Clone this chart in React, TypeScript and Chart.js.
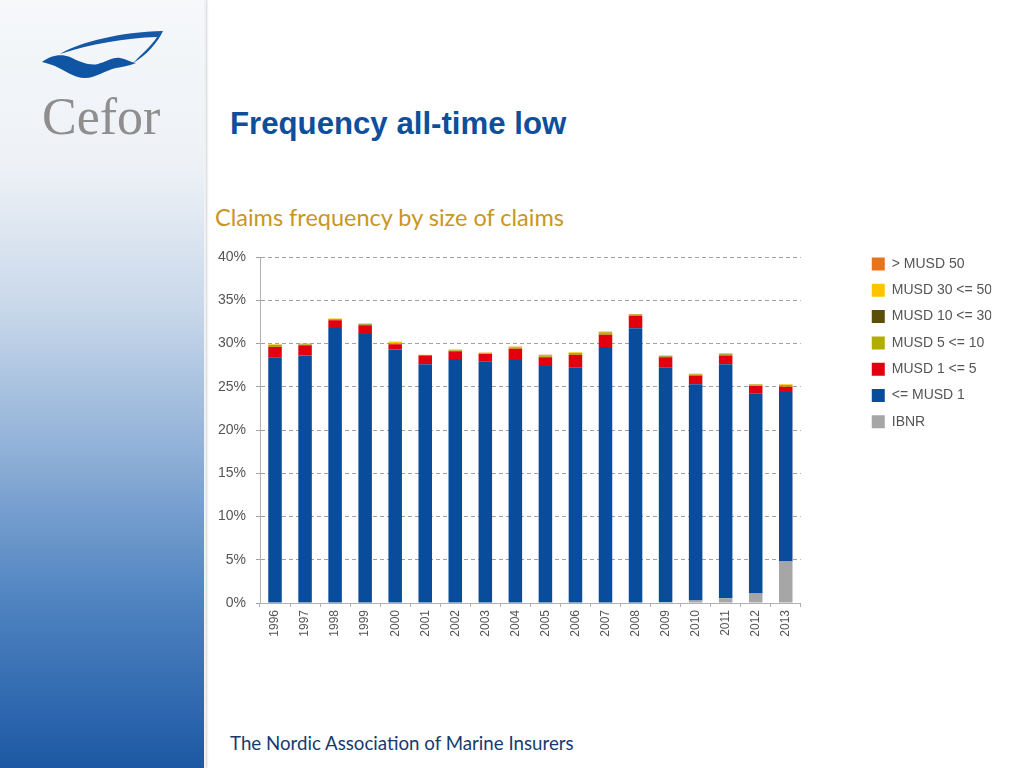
import React, { useEffect, useRef } from "react";
import { Chart, registerables } from "chart.js";

Chart.register(...registerables);

const years = ["1996","1997","1998","1999","2000","2001","2002","2003","2004","2005","2006","2007","2008","2009","2010","2011","2012","2013"];
const ibnr = [0,0,0,0,0,0,0,0,0,0,0,0,0,0.1,0.3,0.55,1.1,4.8];
const upToMusd1 = [28.4,28.6,31.8,31.1,29.3,27.6,28.2,27.9,28.1,27.4,27.2,29.6,31.75,27.1,25.0,27.05,23.1,19.6];
const musd1to5 = [1.2,1.2,0.9,1.0,0.6,1.0,0.9,0.9,1.3,1.0,1.5,1.4,1.45,1.2,1.0,1.0,0.9,0.6];
const musd5to10 = [0.12,0.08,0.08,0.08,0.12,0.05,0.08,0.06,0.1,0.12,0.12,0.15,0.08,0.08,0.08,0.12,0.08,0.12];
const musd10to30 = [0.05,0.04,0.04,0.04,0.05,0.02,0.04,0.03,0.05,0.06,0.06,0.1,0.04,0.04,0.04,0.06,0.04,0.06];
const musd30to50 = [0.1,0.06,0.06,0.06,0.1,0.03,0.06,0.05,0.08,0.1,0.1,0.12,0.06,0.06,0.06,0.1,0.06,0.1];
const overMusd50 = [0.03,0.02,0.02,0.02,0.03,0,0.02,0.01,0.02,0.02,0.02,0.03,0.02,0.02,0.02,0.02,0.02,0.02];
const seriesLabels = ["IBNR","<= MUSD 1","MUSD 1 <= 5","MUSD 5 <= 10","MUSD 10 <= 30","MUSD 30 <= 50","> MUSD 50"];
const seriesColors = ["#a6a6a6","#0a4c9c","#e2000f","#b0ad00","#5b4d0a","#ffc400","#e8731a"];
const yTicks = [0,5,10,15,20,25,30,35,40];

const FONT = "'Liberation Sans', Arial, sans-serif";

function ChartBox() {
  const ref = useRef<HTMLCanvasElement | null>(null);
  useEffect(() => {
    const canvas = ref.current;
    if (!canvas) return;
    const legendPad = 12.3;
    const gap = 58.7;
    const targetLegendLeft = 868 - legendPad - 200;

    const values = [ibnr, upToMusd1, musd1to5, musd5to10, musd10to30, musd30to50, overMusd50];
    const chart = new Chart(canvas, {
      type: "bar",
      data: {
        labels: years,
        datasets: values.map((d, i) => ({
          label: seriesLabels[i],
          data: d,
          backgroundColor: seriesColors[i],
          borderWidth: 0,
          barPercentage: 0.45,
          categoryPercentage: 1,
        })),
      },
      options: {
        responsive: false,
        animation: false,
        layout: { padding: { top: 12.7, left: 0, right: 10, bottom: 0 } },
        plugins: {
          tooltip: { enabled: false },
          title: {
            display: true,
            text: " ",
            fullSize: false,
            font: { size: 1, lineHeight: 1.2 },
            padding: { top: 0, bottom: 11.1 },
          },
          legend: {
            position: "right",
            align: "start",
            reverse: true,
            labels: {
              boxWidth: 13,
              boxHeight: 13,
              padding: legendPad,
              color: "#555555",
              font: { family: FONT, size: 14 },
            },
          },
        },
        scales: {
          x: {
            stacked: true,
            offset: true,
            grid: {
              display: true,
              drawOnChartArea: false,
              drawTicks: true,
              tickLength: 4,
              color: "#b0b0b0",
              offset: true,
            },
            border: { display: true, color: "#b0b0b0", width: 1 },
            ticks: {
              minRotation: 90,
              maxRotation: 90,
              padding: 3,
              color: "#555555",
              font: { family: FONT, size: 12 },
            },
            afterFit: (s: any) => { s.height = 47; },
          },
          y: {
            stacked: true,
            min: 0,
            max: 40,
            afterBuildTicks: (s: any) => { s.ticks = yTicks.map((v) => ({ value: v })); },
            grid: {
              color: "#a0a0a0",
              tickLength: 4,
              drawTicks: true,
            },
            border: { display: true, color: "#b0b0b0", width: 1, dash: [4, 3] },
            ticks: {
              padding: 10,
              color: "#555555",
              font: { family: FONT, size: 14 },
              callback: (v: any) => `${v}%`,
            },
            afterFit: (s: any) => { s.width = 60; },
          },
          y2: {
            type: "linear",
            position: "right",
            display: true,
            grid: { display: false, drawTicks: false },
            border: { display: false },
            ticks: { display: false },
            afterFit: (s: any) => { s.width = gap; },
          },
        },
      } as any,
    });
    const legend: any = (chart as any).legend;
    if (legend) {
      const delta = legend.left - targetLegendLeft;
      if (Math.abs(delta) > 0.1) {
        (chart.options as any).layout.padding.right = 10 + delta;
        chart.update();
      }
    }
    return () => chart.destroy();
  }, []);
  return <canvas ref={ref} width={824} height={418} style={{ display: "block", width: 824, height: 418 }} />;
}

export default function App() {
  return (
    <div style={{ position: "fixed", left: 0, top: 0, width: 1024, height: 768, background: "#ffffff", overflow: "hidden" }}>
      <div
        style={{
          position: "absolute", left: 0, top: 0, width: 204, height: 768,
          background: "linear-gradient(to bottom, #f6f8fa 0%, #edf1f6 22%, #c9d8ea 40%, #92b2d8 58%, #5084c1 78%, #1c58a4 100%)",
          borderRight: "2px solid #eef1f4",
          boxShadow: "1px 0 2px rgba(0,0,0,0.18)",
        }}
      />
      <svg width={210} height={160} style={{ position: "absolute", left: 0, top: 0 }}>
        <path d="M 60 54 C 80 42, 120 32, 163 31 C 158 42, 146 56, 133 63 C 140 56, 152 45, 157 37 C 125 38, 90 44, 60 54 Z" fill="#1458a6" />
        <path d="M 42 62 C 50 56, 60 53, 70 57 C 80 62, 90 66, 98 64 C 106 62, 112 57, 120 58 C 126 59, 130 62, 136 63 C 128 66, 122 67, 116 68 C 106 70, 96 78, 85 78 C 74 78, 64 70, 55 66 C 50 64, 46 63, 42 62 Z" fill="#0f55a3" />
      </svg>
      <div style={{ position: "absolute", left: 42, top: 90.5, fontFamily: "'Liberation Serif', 'Times New Roman', serif", fontSize: 52, lineHeight: "52px", color: "#8e8e8e", whiteSpace: "nowrap" }}>Cefor</div>
      <div style={{ position: "absolute", left: 230, top: 108, fontFamily: FONT, fontWeight: "bold", fontSize: 31.2, lineHeight: "31.2px", color: "#0d4f9c", whiteSpace: "nowrap" }}>Frequency all-time low</div>
      <div style={{ position: "absolute", left: 215, top: 206.2, fontFamily: "Lato, 'Open Sans', sans-serif", fontSize: 23.5, lineHeight: "23.5px", color: "#c9961f", whiteSpace: "nowrap" }}>Claims frequency by size of claims</div>
      <div style={{ position: "absolute", left: 200, top: 232 }}>
        <ChartBox />
      </div>
      <div style={{ position: "absolute", left: 230, top: 734.4, fontFamily: "Lato, 'Open Sans', sans-serif", fontSize: 18.7, lineHeight: "18.7px", color: "#163a6e", whiteSpace: "nowrap" }}>The Nordic Association of Marine Insurers</div>
    </div>
  );
}
